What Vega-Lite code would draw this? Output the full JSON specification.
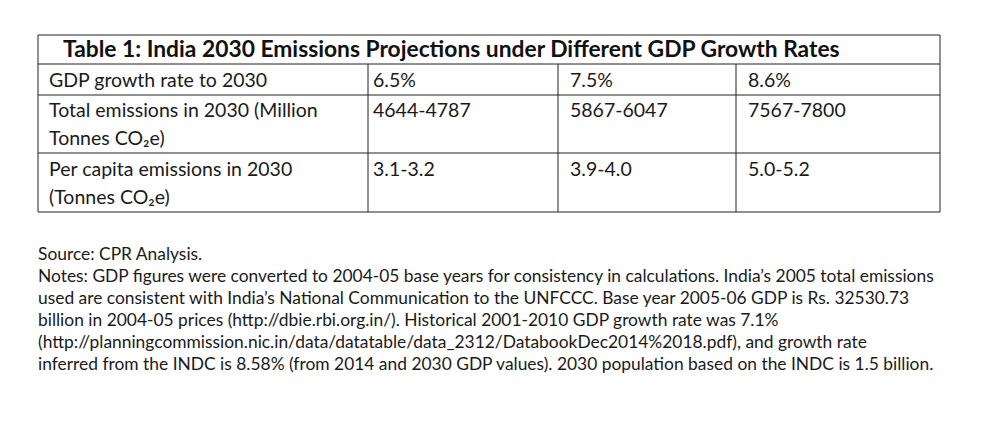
{
  "$schema": "https://vega.github.io/schema/vega-lite/v6.json",
  "width": 981,
  "height": 424,
  "padding": 0,
  "autosize": {"type": "fit", "contains": "padding"},
  "background": "white",
  "config": {"view": {"stroke": null}},
  "datasets": {
    "grid": [
      {"x": 38, "x2": 940, "y": 35, "y2": 35},
      {"x": 38, "x2": 940, "y": 64, "y2": 64},
      {"x": 38, "x2": 940, "y": 95, "y2": 95},
      {"x": 38, "x2": 940, "y": 153, "y2": 153},
      {"x": 38, "x2": 940, "y": 212, "y2": 212},
      {"x": 38, "x2": 38, "y": 35, "y2": 212},
      {"x": 940, "x2": 940, "y": 35, "y2": 212},
      {"x": 368, "x2": 368, "y": 64, "y2": 212},
      {"x": 558, "x2": 558, "y": 64, "y2": 212},
      {"x": 736, "x2": 736, "y": 64, "y2": 212}
    ],
    "title": [
      {"x": 63, "y": 57, "text": "Table 1: India 2030 Emissions Projections under Different GDP Growth Rates"}
    ],
    "cells": [
      {"x": 49, "y": 87, "text": "GDP growth rate to 2030"},
      {"x": 373, "y": 87, "text": "6.5%"},
      {"x": 570, "y": 87, "text": "7.5%"},
      {"x": 748, "y": 87, "text": "8.6%"},
      {"x": 49, "y": 117, "text": "Total emissions in 2030 (Million"},
      {"x": 49, "y": 145, "text": "Tonnes CO₂e)"},
      {"x": 373, "y": 117, "text": "4644-4787"},
      {"x": 570, "y": 117, "text": "5867-6047"},
      {"x": 748, "y": 117, "text": "7567-7800"},
      {"x": 49, "y": 176, "text": "Per capita emissions in 2030"},
      {"x": 49, "y": 204, "text": "(Tonnes CO₂e)"},
      {"x": 373, "y": 176, "text": "3.1-3.2"},
      {"x": 570, "y": 176, "text": "3.9-4.0"},
      {"x": 748, "y": 176, "text": "5.0-5.2"}
    ],
    "notes": [
      {"x": 38, "y": 260, "text": "Source: CPR Analysis."},
      {"x": 38, "y": 282, "text": "Notes: GDP figures were converted to 2004-05 base years for consistency in calculations. India’s 2005 total emissions"},
      {"x": 38, "y": 304, "text": "used are consistent with India’s National Communication to the UNFCCC. Base year 2005-06 GDP is Rs. 32530.73"},
      {"x": 38, "y": 326, "text": "billion in 2004-05 prices (http://dbie.rbi.org.in/). Historical 2001-2010 GDP growth rate was 7.1%"},
      {"x": 38, "y": 348, "text": "(http://planningcommission.nic.in/data/datatable/data_2312/DatabookDec2014%2018.pdf), and growth rate"},
      {"x": 38, "y": 370, "text": "inferred from the INDC is 8.58% (from 2014 and 2030 GDP values). 2030 population based on the INDC is 1.5 billion."}
    ]
  },
  "layer": [
    {
      "data": {"name": "grid"},
      "mark": {"type": "rule", "color": "#222222", "strokeWidth": 1},
      "encoding": {
        "x": {"field": "x", "type": "quantitative", "scale": {"domain": [0, 981], "nice": false, "zero": false}, "axis": null},
        "x2": {"field": "x2"},
        "y": {"field": "y", "type": "quantitative", "scale": {"domain": [0, 424], "nice": false, "zero": false, "reverse": true}, "axis": null},
        "y2": {"field": "y2"}
      }
    },
    {
      "data": {"name": "title"},
      "mark": {"type": "text", "align": "left", "baseline": "alphabetic", "font": "Lato", "fontWeight": "bold", "fontSize": 22.8, "color": "#111111"},
      "encoding": {
        "x": {"field": "x", "type": "quantitative", "scale": {"domain": [0, 981], "nice": false, "zero": false}, "axis": null},
        "y": {"field": "y", "type": "quantitative", "scale": {"domain": [0, 424], "nice": false, "zero": false, "reverse": true}, "axis": null},
        "text": {"field": "text", "type": "nominal"}
      }
    },
    {
      "data": {"name": "cells"},
      "mark": {"type": "text", "align": "left", "baseline": "alphabetic", "font": "Lato", "fontSize": 19.5, "color": "#1a1a1a"},
      "encoding": {
        "x": {"field": "x", "type": "quantitative", "scale": {"domain": [0, 981], "nice": false, "zero": false}, "axis": null},
        "y": {"field": "y", "type": "quantitative", "scale": {"domain": [0, 424], "nice": false, "zero": false, "reverse": true}, "axis": null},
        "text": {"field": "text", "type": "nominal"}
      }
    },
    {
      "data": {"name": "notes"},
      "mark": {"type": "text", "align": "left", "baseline": "alphabetic", "font": "Lato", "fontSize": 17.4, "color": "#1a1a1a"},
      "encoding": {
        "x": {"field": "x", "type": "quantitative", "scale": {"domain": [0, 981], "nice": false, "zero": false}, "axis": null},
        "y": {"field": "y", "type": "quantitative", "scale": {"domain": [0, 424], "nice": false, "zero": false, "reverse": true}, "axis": null},
        "text": {"field": "text", "type": "nominal"}
      }
    }
  ]
}
